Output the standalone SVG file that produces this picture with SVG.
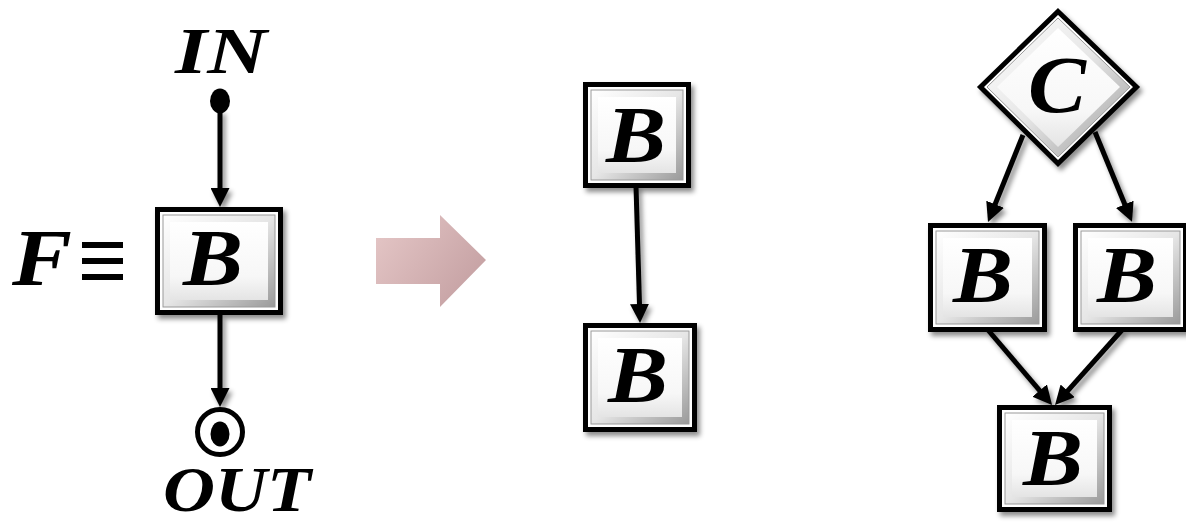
<svg xmlns="http://www.w3.org/2000/svg" width="1186" height="526" viewBox="0 0 1186 526">
<defs>
<filter id="sh" x="-20%" y="-20%" width="150%" height="150%">
<feDropShadow dx="3" dy="4" stdDeviation="2.5" flood-color="#000" flood-opacity="0.45"/>
</filter>
<linearGradient id="bevel" x1="0" y1="0" x2="1" y2="1">
<stop offset="0" stop-color="#ffffff"/>
<stop offset="0.5" stop-color="#e6e6e6"/>
<stop offset="1" stop-color="#9a9a9a"/>
</linearGradient>
<linearGradient id="face" x1="0" y1="0" x2="0" y2="1">
<stop offset="0" stop-color="#ffffff"/>
<stop offset="0.7" stop-color="#f7f7f7"/>
<stop offset="1" stop-color="#e4e4e4"/>
</linearGradient>
<linearGradient id="pink" x1="0" y1="0" x2="1" y2="0.6">
<stop offset="0" stop-color="#e6c8c8"/>
<stop offset="1" stop-color="#c6a2a4"/>
</linearGradient>
<marker id="ah" markerUnits="userSpaceOnUse" markerWidth="19" markerHeight="19" refX="4" refY="9.5" orient="auto">
<path d="M0,0 L19,9.5 L0,19 z" fill="#000"/>
</marker>
</defs>
<style>
.out{fill:#fff;stroke:#000;stroke-width:5}
.bev{fill:url(#bevel);stroke:#9a9a9a;stroke-width:1}
.face{fill:url(#face);stroke:none}
.lbl{font-family:"Liberation Serif","Times New Roman",serif;font-weight:bold;font-style:italic;fill:#000}
.big{font-size:80px}
.io{font-size:66px}
.edge{stroke:#000;stroke-width:5;fill:none;marker-end:url(#ah)}
</style>

<g id="connectors" filter="url(#sh)">
<line class="edge" x1="220" y1="110" x2="220" y2="192"/>
<line class="edge" x1="220" y1="315" x2="220" y2="392"/>
<line class="edge" x1="636" y1="186" x2="639.6" y2="308"/>
<line class="edge" x1="1023" y1="135" x2="993.6" y2="208"/>
<line class="edge" x1="1095" y1="132" x2="1126.3" y2="208"/>
<line class="edge" x1="988" y1="330" x2="1042.3" y2="393.6"/>
<line class="edge" x1="1122" y1="330" x2="1065" y2="393.8"/>
</g>

<g id="in-port">
<text class="lbl io" x="221" y="73" text-anchor="middle" textLength="92" lengthAdjust="spacingAndGlyphs">IN</text>
<ellipse cx="220" cy="101" rx="10" ry="12.5" fill="#000"/>
</g>

<g id="out-port">
<circle cx="220" cy="432" r="22.5" fill="#fff" stroke="#000" stroke-width="5"/>
<ellipse cx="220" cy="434" rx="9.5" ry="12.5" fill="#000"/>
<text class="lbl" style="font-size:64px" x="237" y="511" text-anchor="middle" textLength="148" lengthAdjust="spacingAndGlyphs">OUT</text>
</g>

<g id="f-label">
<text class="lbl" style="font-size:80px" x="12" y="285" textLength="60" lengthAdjust="spacingAndGlyphs">F</text>
<rect x="82" y="242" width="41" height="6" fill="#000"/>
<rect x="82" y="258" width="41" height="6" fill="#000"/>
<rect x="82" y="274" width="41" height="6" fill="#000"/>
</g>

<g id="box-f" filter="url(#sh)">
<rect class="out" x="157.5" y="209.5" width="123" height="103"/>
<rect class="bev" x="163" y="215" width="112" height="92"/>
<rect class="face" x="170" y="222" width="98" height="78"/>
<text class="lbl big" x="213" y="285" text-anchor="middle" textLength="60" lengthAdjust="spacingAndGlyphs">B</text>
</g>

<g id="transform-arrow">
<polygon points="376,238 440,238 440,215 486,260 440,307 440,284 376,284" fill="url(#pink)"/>
</g>

<g id="seq-b1" filter="url(#sh)">
<rect class="out" x="585.5" y="84.5" width="103" height="101"/>
<rect class="bev" x="591" y="90" width="92" height="90"/>
<rect class="face" x="598" y="97" width="78" height="76"/>
<text class="lbl big" x="636" y="162" text-anchor="middle" textLength="60" lengthAdjust="spacingAndGlyphs">B</text>
</g>

<g id="seq-b2" filter="url(#sh)">
<rect class="out" x="585.5" y="325.5" width="109" height="104"/>
<rect class="bev" x="591" y="331" width="98" height="93"/>
<rect class="face" x="598" y="338" width="84" height="79"/>
<text class="lbl big" x="638" y="402" text-anchor="middle" textLength="60" lengthAdjust="spacingAndGlyphs">B</text>
</g>

<g id="cond-c" filter="url(#sh)">
<polygon points="1058,11.5 1136.5,87 1058,163.5 980.5,87" fill="#fff" stroke="#000" stroke-width="5"/>
<polygon points="1058,18 1130,87 1058,157 987,87" fill="url(#bevel)" stroke="#9a9a9a" stroke-width="1"/>
<polygon points="1058,28 1120,87 1058,147 997,87" fill="url(#face)"/>
<text class="lbl big" x="1057" y="112" text-anchor="middle" textLength="58" lengthAdjust="spacingAndGlyphs">C</text>
</g>

<g id="par-b1" filter="url(#sh)">
<rect class="out" x="930.5" y="225.5" width="114" height="104"/>
<rect class="bev" x="936" y="231" width="103" height="93"/>
<rect class="face" x="943" y="238" width="89" height="79"/>
<text class="lbl big" x="983" y="302" text-anchor="middle" textLength="60" lengthAdjust="spacingAndGlyphs">B</text>
</g>

<g id="par-b2" filter="url(#sh)">
<rect class="out" x="1075.5" y="225.5" width="110" height="104"/>
<rect class="bev" x="1081" y="231" width="99" height="93"/>
<rect class="face" x="1088" y="238" width="85" height="79"/>
<text class="lbl big" x="1127" y="302" text-anchor="middle" textLength="60" lengthAdjust="spacingAndGlyphs">B</text>
</g>

<g id="par-b3" filter="url(#sh)">
<rect class="out" x="999.5" y="407.5" width="110" height="102"/>
<rect class="bev" x="1005" y="413" width="99" height="91"/>
<rect class="face" x="1012" y="420" width="85" height="77"/>
<text class="lbl big" x="1053" y="485" text-anchor="middle" textLength="60" lengthAdjust="spacingAndGlyphs">B</text>
</g>
</svg>
